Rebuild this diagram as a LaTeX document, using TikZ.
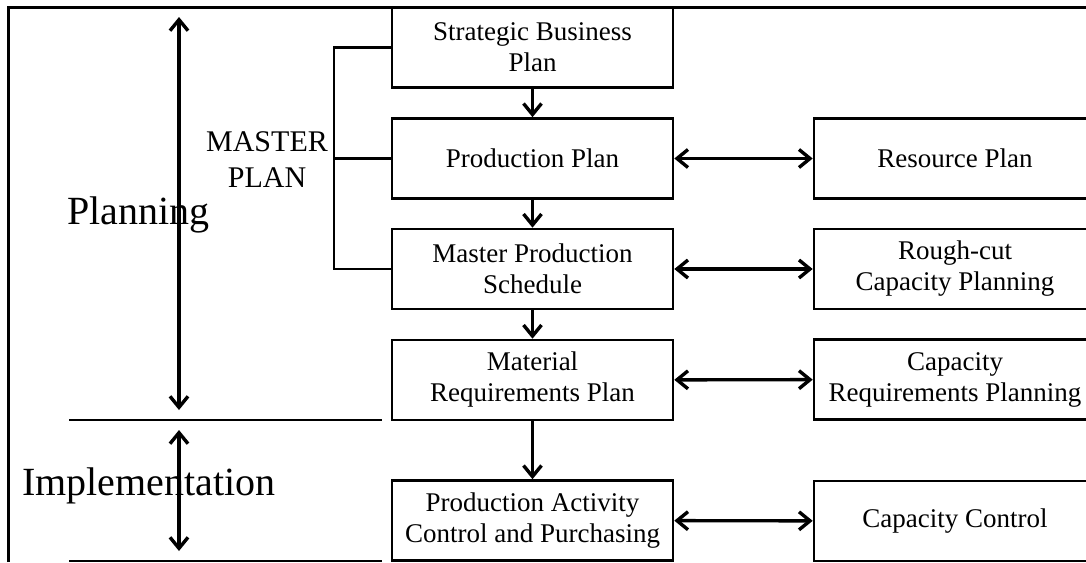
\documentclass[tikz,border=0pt]{standalone}
\usepackage{fontspec}
\setmainfont{Liberation Serif}
\usetikzlibrary{arrows.meta}
\tikzset{
  stagebox/.style={draw, line width=2.6pt, minimum width=281pt, minimum height=80pt,
    inner sep=2pt, align=center, font=\fontsize{27}{31}\selectfont},
  barb/.tip={Straight Barb[length=11pt,width=18pt]},
  flow/.style={line width=3.4pt, -barb},
  link/.style={line width=3.4pt, barb-barb},
  span/.style={line width=3.4pt, barb-barb},
  rule/.style={line width=2.6pt},
  bracket/.style={line width=2.2pt},
  phase/.style={font=\fontsize{40}{48}\selectfont, inner sep=0pt}
}
\begin{document}
\begin{tikzpicture}[x=1pt, y=-1pt]
  \clip (0,0) rectangle (1086,562);
  \fill[white] (0,0) rectangle (1086,562);

  % outer frame
  \draw[line width=3pt, line join=miter] (8.5,562) -- (8.5,7.5) -- (1086,7.5);

  % main planning chain
  \node[stagebox] (sbp) at (532.5,47.5) {Strategic Business\\Plan};
  \node[stagebox] (pp)  at (532.5,158.5) {Production Plan};
  \node[stagebox] (mps) at (532.5,269) {Master Production\\Schedule};
  \node[stagebox] (mrp) at (532.5,380) {Material\\Requirements Plan};
  \node[stagebox] (pac) at (532.5,520.5) {Production Activity\\Control and Purchasing};

  % capacity checks
  \node[stagebox, minimum width=282pt] (rp)  at (955,158.5) {Resource Plan};
  \node[stagebox, minimum width=282pt] (rcp) at (955,269) {Rough-cut\\Capacity Planning};
  \node[stagebox, minimum width=282pt] (crp) at (955,379.5) {Capacity\\Requirements Planning};
  \node[stagebox, minimum width=282pt] (cc)  at (955,521) {Capacity Control};

  \draw[flow] (sbp) -- (pp);
  \draw[flow] (pp) -- (mps);
  \draw[flow] (mps) -- (mrp);
  \draw[flow] (mrp) -- (pac);

  \draw[link] (pp) -- (rp);
  \draw[link] (mps) -- (rcp);
  \draw[link] (mrp) -- (crp);
  \draw[link] (pac) -- (cc);

  % master plan bracket
  \coordinate (brk) at (334,0);
  \draw[bracket] (sbp.west) -- (sbp.west -| brk) -- (mps.west -| brk) -- (mps.west);
  \draw[bracket] (pp.west) -- (pp.west -| brk);
  \node[font=\fontsize{30}{36}\selectfont, align=center, inner sep=0pt] (mp) at (267,160) {MASTER\\PLAN};

  % phase separators
  \coordinate (s1l) at (69,420);  \coordinate (s1r) at (382,420);
  \coordinate (s2l) at (69,561);  \coordinate (s2r) at (382,561);
  \draw[rule] (s1l) -- (s1r);
  \draw[rule] (s2l) -- (s2r);

  % phase spans
  \coordinate (pt) at (179,17);  \coordinate (pb) at (179,410);
  \coordinate (it) at (179,430); \coordinate (ib) at (179,551);
  \draw[span] (pt) -- (pb);
  \draw[span] (it) -- (ib);
  \node[phase, anchor=base west] (plan) at (67,224) {Planning};
  \node[phase, anchor=base west] (impl) at (22,495) {Implementation};
\end{tikzpicture}
\end{document}
